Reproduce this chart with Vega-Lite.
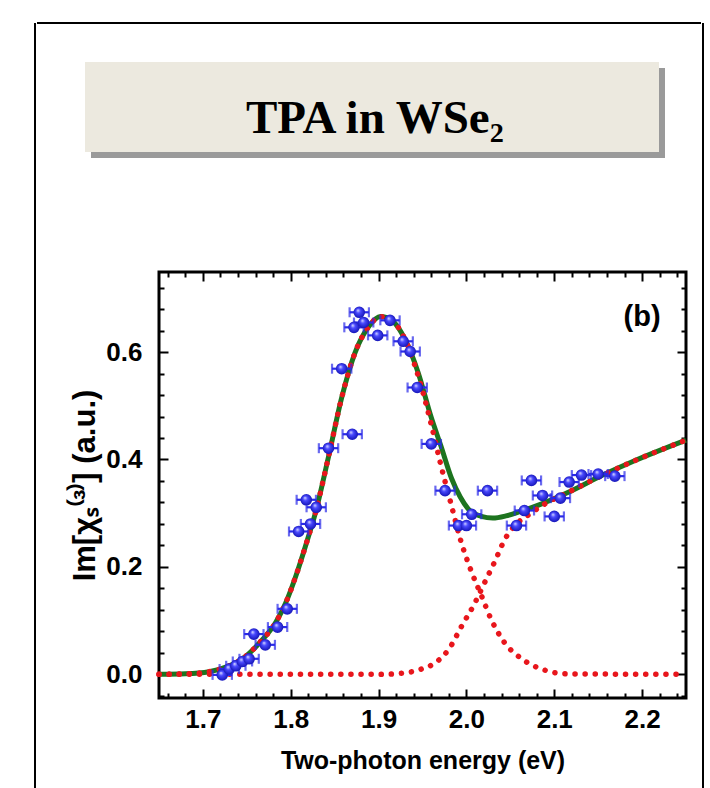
{
  "$schema": "https://vega.github.io/schema/vega-lite/v6.json",
  "background": "white",
  "padding": {"left": 34, "top": 22, "right": 6, "bottom": 0},
  "config": {"view": {"stroke": null}, "font": "Liberation Sans"},
  "datasets": {
    "points": [
      {"E": 1.722, "v": -0.001, "dE": 0.011},
      {"E": 1.730, "v": 0.010, "dE": 0.011},
      {"E": 1.7375, "v": 0.016, "dE": 0.011},
      {"E": 1.745, "v": 0.024, "dE": 0.011},
      {"E": 1.7526, "v": 0.029, "dE": 0.011},
      {"E": 1.758, "v": 0.075, "dE": 0.011},
      {"E": 1.771, "v": 0.055, "dE": 0.011},
      {"E": 1.785, "v": 0.088, "dE": 0.011},
      {"E": 1.796, "v": 0.122, "dE": 0.011},
      {"E": 1.809, "v": 0.266, "dE": 0.011},
      {"E": 1.8177, "v": 0.325, "dE": 0.011},
      {"E": 1.8225, "v": 0.280, "dE": 0.011},
      {"E": 1.829, "v": 0.311, "dE": 0.011},
      {"E": 1.843, "v": 0.421, "dE": 0.011},
      {"E": 1.858, "v": 0.569, "dE": 0.011},
      {"E": 1.870, "v": 0.447, "dE": 0.011},
      {"E": 1.872, "v": 0.646, "dE": 0.011},
      {"E": 1.878, "v": 0.674, "dE": 0.011},
      {"E": 1.883, "v": 0.655, "dE": 0.011},
      {"E": 1.899, "v": 0.631, "dE": 0.011},
      {"E": 1.913, "v": 0.659, "dE": 0.011},
      {"E": 1.928, "v": 0.620, "dE": 0.011},
      {"E": 1.936, "v": 0.601, "dE": 0.011},
      {"E": 1.944, "v": 0.534, "dE": 0.011},
      {"E": 1.960, "v": 0.429, "dE": 0.011},
      {"E": 1.9757, "v": 0.342, "dE": 0.011},
      {"E": 1.991, "v": 0.277, "dE": 0.011},
      {"E": 2.000, "v": 0.277, "dE": 0.011},
      {"E": 2.006, "v": 0.298, "dE": 0.011},
      {"E": 2.024, "v": 0.342, "dE": 0.011},
      {"E": 2.057, "v": 0.277, "dE": 0.011},
      {"E": 2.066, "v": 0.305, "dE": 0.011},
      {"E": 2.074, "v": 0.361, "dE": 0.011},
      {"E": 2.0866, "v": 0.333, "dE": 0.011},
      {"E": 2.100, "v": 0.294, "dE": 0.011},
      {"E": 2.107, "v": 0.328, "dE": 0.011},
      {"E": 2.117, "v": 0.358, "dE": 0.011},
      {"E": 2.131, "v": 0.371, "dE": 0.011},
      {"E": 2.150, "v": 0.373, "dE": 0.011},
      {"E": 2.169, "v": 0.369, "dE": 0.011}
    ],
    "fit": [
      {"E": 1.65, "v": 0.0}, {"E": 1.68, "v": 0.001}, {"E": 1.707, "v": 0.005},
      {"E": 1.73, "v": 0.016}, {"E": 1.745, "v": 0.029}, {"E": 1.764, "v": 0.058},
      {"E": 1.783, "v": 0.097}, {"E": 1.794, "v": 0.132}, {"E": 1.806, "v": 0.184},
      {"E": 1.817, "v": 0.240}, {"E": 1.828, "v": 0.300}, {"E": 1.843, "v": 0.405},
      {"E": 1.858, "v": 0.515}, {"E": 1.873, "v": 0.598}, {"E": 1.889, "v": 0.648},
      {"E": 1.902, "v": 0.666}, {"E": 1.915, "v": 0.659}, {"E": 1.930, "v": 0.624},
      {"E": 1.945, "v": 0.562}, {"E": 1.960, "v": 0.478}, {"E": 1.971, "v": 0.425},
      {"E": 1.983, "v": 0.365}, {"E": 1.993, "v": 0.330}, {"E": 2.002, "v": 0.308},
      {"E": 2.017, "v": 0.294}, {"E": 2.030, "v": 0.291}, {"E": 2.045, "v": 0.295},
      {"E": 2.059, "v": 0.302}, {"E": 2.085, "v": 0.317}, {"E": 2.116, "v": 0.339},
      {"E": 2.154, "v": 0.370}, {"E": 2.192, "v": 0.398}, {"E": 2.25, "v": 0.436}
    ],
    "components": [
      {"part": "exciton", "E": 1.65, "v": 0.0}, {"part": "exciton", "E": 1.68, "v": 0.001},
      {"part": "exciton", "E": 1.707, "v": 0.005}, {"part": "exciton", "E": 1.73, "v": 0.016},
      {"part": "exciton", "E": 1.745, "v": 0.029}, {"part": "exciton", "E": 1.764, "v": 0.058},
      {"part": "exciton", "E": 1.783, "v": 0.097}, {"part": "exciton", "E": 1.794, "v": 0.132},
      {"part": "exciton", "E": 1.806, "v": 0.184}, {"part": "exciton", "E": 1.817, "v": 0.240},
      {"part": "exciton", "E": 1.828, "v": 0.300}, {"part": "exciton", "E": 1.843, "v": 0.405},
      {"part": "exciton", "E": 1.858, "v": 0.515}, {"part": "exciton", "E": 1.873, "v": 0.598},
      {"part": "exciton", "E": 1.889, "v": 0.648}, {"part": "exciton", "E": 1.902, "v": 0.666},
      {"part": "exciton", "E": 1.915, "v": 0.659}, {"part": "exciton", "E": 1.930, "v": 0.624},
      {"part": "exciton", "E": 1.945, "v": 0.556}, {"part": "exciton", "E": 1.960, "v": 0.465},
      {"part": "exciton", "E": 1.971, "v": 0.389}, {"part": "exciton", "E": 1.983, "v": 0.314},
      {"part": "exciton", "E": 1.993, "v": 0.252}, {"part": "exciton", "E": 2.006, "v": 0.190},
      {"part": "exciton", "E": 2.017, "v": 0.147}, {"part": "exciton", "E": 2.028, "v": 0.103},
      {"part": "exciton", "E": 2.043, "v": 0.060}, {"part": "exciton", "E": 2.063, "v": 0.029},
      {"part": "exciton", "E": 2.089, "v": 0.008}, {"part": "exciton", "E": 2.115, "v": 0.001},
      {"part": "exciton", "E": 2.25, "v": 0.0},
      {"part": "continuum", "E": 1.65, "v": 0.0}, {"part": "continuum", "E": 1.90, "v": 0.0},
      {"part": "continuum", "E": 1.926, "v": 0.002}, {"part": "continuum", "E": 1.949, "v": 0.010},
      {"part": "continuum", "E": 1.965, "v": 0.022}, {"part": "continuum", "E": 1.980, "v": 0.047},
      {"part": "continuum", "E": 1.995, "v": 0.091}, {"part": "continuum", "E": 2.010, "v": 0.134},
      {"part": "continuum", "E": 2.019, "v": 0.165}, {"part": "continuum", "E": 2.032, "v": 0.209},
      {"part": "continuum", "E": 2.044, "v": 0.252}, {"part": "continuum", "E": 2.057, "v": 0.280},
      {"part": "continuum", "E": 2.070, "v": 0.296}, {"part": "continuum", "E": 2.089, "v": 0.317},
      {"part": "continuum", "E": 2.116, "v": 0.339}, {"part": "continuum", "E": 2.154, "v": 0.370},
      {"part": "continuum", "E": 2.192, "v": 0.398}, {"part": "continuum", "E": 2.25, "v": 0.436}
    ]
  },
  "spacing": 0,
  "hconcat": [
    {
      "width": 1,
      "height": 765,
      "data": {"values": [{"edge": "left"}]},
      "mark": {"type": "rule", "color": "black", "strokeWidth": 2},
      "encoding": {
        "x": {"datum": 0, "type": "quantitative", "scale": {"domain": [0, 1], "nice": false}, "axis": null},
        "y": {"datum": 0, "type": "quantitative", "scale": {"domain": [0, 1], "nice": false}, "axis": null},
        "y2": {"datum": 1}
      }
    },
    {
      "spacing": 38,
      "vconcat": [
        {
          "width": 664,
          "height": 1,
          "data": {"values": [{"edge": "top"}]},
          "mark": {"type": "rule", "color": "black", "strokeWidth": 2},
          "encoding": {
            "x": {"datum": 0, "type": "quantitative", "scale": {"domain": [0, 1], "nice": false}, "axis": null},
            "x2": {"datum": 1},
            "y": {"datum": 1, "type": "quantitative", "scale": {"domain": [0, 1], "nice": false}, "axis": null}
          }
        },
        {
          "spacing": 111,
          "vconcat": [
            {
              "spacing": 47,
              "hconcat": [
                {"width": 1, "height": 1, "data": {"values": []}, "mark": "point"},
                {
                  "width": 574,
                  "height": 90,
                  "data": {"values": [{"title": "TPA in WSe₂"}]},
                  "layer": [
                    {
                      "mark": {"type": "rect", "color": "#9a9a9a", "xOffset": 6, "x2Offset": 6, "yOffset": 6, "y2Offset": 6},
                      "encoding": {
                        "x": {"datum": 0, "type": "quantitative", "scale": {"domain": [0, 1], "nice": false}, "axis": null},
                        "x2": {"datum": 1},
                        "y": {"datum": 0, "type": "quantitative", "scale": {"domain": [0, 1], "nice": false}, "axis": null},
                        "y2": {"datum": 1}
                      }
                    },
                    {
                      "mark": {"type": "rect", "color": "#ECE9DF"},
                      "encoding": {
                        "x": {"datum": 0, "type": "quantitative"},
                        "x2": {"datum": 1},
                        "y": {"datum": 0, "type": "quantitative"},
                        "y2": {"datum": 1}
                      }
                    },
                    {
                      "mark": {"type": "text", "font": "Liberation Serif", "fontWeight": "bold", "fontSize": 47, "align": "center", "baseline": "alphabetic", "color": "black"},
                      "encoding": {
                        "x": {"datum": 0.505, "type": "quantitative"},
                        "y": {"datum": 0.21, "type": "quantitative"},
                        "text": {"field": "title"}
                      }
                    }
                  ]
                }
              ]
            },
            {
              "spacing": 30,
              "hconcat": [
                {"width": 1, "height": 1, "data": {"values": []}, "mark": "point"},
                {
                  "width": 527,
                  "height": 426,
                  "view": {"stroke": "black", "strokeWidth": 3},
                  "resolve": {"axis": {"x": "independent", "y": "independent"}},
                  "layer": [
                    {
                      "data": {"name": "fit"},
                      "mark": {"type": "line", "color": "#1d741f", "strokeWidth": 5, "interpolate": "monotone"},
                      "encoding": {
                        "x": {
                          "field": "E", "type": "quantitative",
                          "scale": {"domain": [1.65, 2.25], "nice": false, "zero": false},
                          "axis": {
                            "orient": "bottom", "title": "Two-photon energy (eV)",
                            "values": [1.66, 1.68, 1.7, 1.72, 1.74, 1.76, 1.78, 1.8, 1.82, 1.84, 1.86, 1.88, 1.9, 1.92, 1.94, 1.96, 1.98, 2.0, 2.02, 2.04, 2.06, 2.08, 2.1, 2.12, 2.14, 2.16, 2.18, 2.2, 2.22, 2.24],
                            "labelExpr": "abs(datum.value*10 - round(datum.value*10)) < 0.001 ? format(datum.value, '.1f') : ''",
                            "tickSize": {"condition": {"test": "abs(datum.value*10 - round(datum.value*10)) < 0.001", "value": -9}, "value": -5},
                            "tickWidth": 2, "tickColor": "black", "domain": false, "grid": false,
                            "labelFont": "Liberation Sans", "labelFontWeight": "bold", "labelFontSize": 26, "labelColor": "black",
                            "labelPadding": 17, "labelOverlap": false, "labelFlush": false, "labelBound": false,
                            "titleFont": "Liberation Sans", "titleFontWeight": "bold", "titleFontSize": 25, "titleColor": "black", "titlePadding": 12
                          }
                        },
                        "y": {
                          "field": "v", "type": "quantitative",
                          "scale": {"domain": [-0.044, 0.749], "nice": false, "zero": false},
                          "axis": {
                            "orient": "left", "title": "Im[χₛ⁽³⁾] (a.u.)",
                            "values": [-0.04, 0, 0.04, 0.08, 0.12, 0.16, 0.2, 0.24, 0.28, 0.32, 0.36, 0.4, 0.44, 0.48, 0.52, 0.56, 0.6, 0.64, 0.68, 0.72],
                            "labelExpr": "abs(datum.value*5 - round(datum.value*5)) < 0.001 ? format(datum.value, '.1f') : ''",
                            "tickSize": {"condition": {"test": "abs(datum.value*5 - round(datum.value*5)) < 0.001", "value": -9}, "value": -5},
                            "tickWidth": 2, "tickColor": "black", "domain": false, "grid": false,
                            "labelFont": "Liberation Sans", "labelFontWeight": "bold", "labelFontSize": 26, "labelColor": "black",
                            "labelPadding": 26, "labelOverlap": false, "labelFlush": false, "labelBound": false,
                            "titleFont": "Liberation Sans", "titleFontWeight": "bold", "titleFontSize": 31, "titleColor": "black", "titlePadding": 4
                          }
                        }
                      }
                    },
                    {
                      "data": {"name": "components"},
                      "mark": {"type": "line", "color": "#e8161c", "strokeWidth": 5.5, "strokeDash": [0.1, 10], "strokeCap": "round", "interpolate": "monotone"},
                      "encoding": {
                        "detail": {"field": "part"},
                        "x": {
                          "field": "E", "type": "quantitative",
                          "scale": {"domain": [1.65, 2.25], "nice": false, "zero": false},
                          "axis": {
                            "orient": "top", "title": null, "labels": false,
                            "values": [1.66, 1.68, 1.7, 1.72, 1.74, 1.76, 1.78, 1.8, 1.82, 1.84, 1.86, 1.88, 1.9, 1.92, 1.94, 1.96, 1.98, 2.0, 2.02, 2.04, 2.06, 2.08, 2.1, 2.12, 2.14, 2.16, 2.18, 2.2, 2.22, 2.24],
                            "tickSize": {"condition": {"test": "abs(datum.value*10 - round(datum.value*10)) < 0.001", "value": -9}, "value": -5},
                            "tickWidth": 2, "tickColor": "black", "domain": false, "grid": false
                          }
                        },
                        "y": {
                          "field": "v", "type": "quantitative",
                          "scale": {"domain": [-0.044, 0.749], "nice": false, "zero": false},
                          "axis": {
                            "orient": "right", "title": null, "labels": false,
                            "values": [-0.04, 0, 0.04, 0.08, 0.12, 0.16, 0.2, 0.24, 0.28, 0.32, 0.36, 0.4, 0.44, 0.48, 0.52, 0.56, 0.6, 0.64, 0.68, 0.72],
                            "tickSize": {"condition": {"test": "abs(datum.value*5 - round(datum.value*5)) < 0.001", "value": -9}, "value": -5},
                            "tickWidth": 2, "tickColor": "black", "domain": false, "grid": false
                          }
                        }
                      }
                    },
                    {
                      "data": {"name": "points"},
                      "mark": {"type": "errorbar", "color": "#2a2ae8", "thickness": 2.2, "ticks": {"size": 10, "thickness": 2.2}},
                      "encoding": {
                        "x": {"field": "E", "type": "quantitative", "axis": null},
                        "xError": {"field": "dE"},
                        "y": {"field": "v", "type": "quantitative", "axis": null}
                      }
                    },
                    {
                      "data": {"name": "points"},
                      "mark": {
                        "type": "point", "shape": "circle", "filled": true, "size": 135, "opacity": 1, "strokeWidth": 0,
                        "fill": {"gradient": "radial", "x1": 0.38, "y1": 0.32, "r1": 0, "x2": 0.5, "y2": 0.5, "r2": 0.55,
                          "stops": [{"offset": 0, "color": "#e4e6ff"}, {"offset": 0.35, "color": "#4a4aff"}, {"offset": 1, "color": "#1010b0"}]}
                      },
                      "encoding": {
                        "x": {"field": "E", "type": "quantitative", "axis": null},
                        "y": {"field": "v", "type": "quantitative", "axis": null}
                      }
                    },
                    {
                      "data": {"values": [{"panel": "(b)"}]},
                      "mark": {"type": "text", "font": "Liberation Sans", "fontWeight": "bold", "fontSize": 29, "color": "black", "align": "center", "baseline": "middle"},
                      "encoding": {
                        "x": {"datum": 2.2, "type": "quantitative", "axis": null},
                        "y": {"datum": 0.665, "type": "quantitative", "axis": null},
                        "text": {"field": "panel"}
                      }
                    }
                  ]
                }
              ]
            }
          ]
        }
      ]
    },
    {
      "width": 1,
      "height": 765,
      "data": {"values": [{"edge": "right"}]},
      "mark": {"type": "rule", "color": "black", "strokeWidth": 2},
      "encoding": {
        "x": {"datum": 0, "type": "quantitative", "scale": {"domain": [0, 1], "nice": false}, "axis": null},
        "y": {"datum": 0, "type": "quantitative", "scale": {"domain": [0, 1], "nice": false}, "axis": null},
        "y2": {"datum": 1}
      }
    }
  ]
}
